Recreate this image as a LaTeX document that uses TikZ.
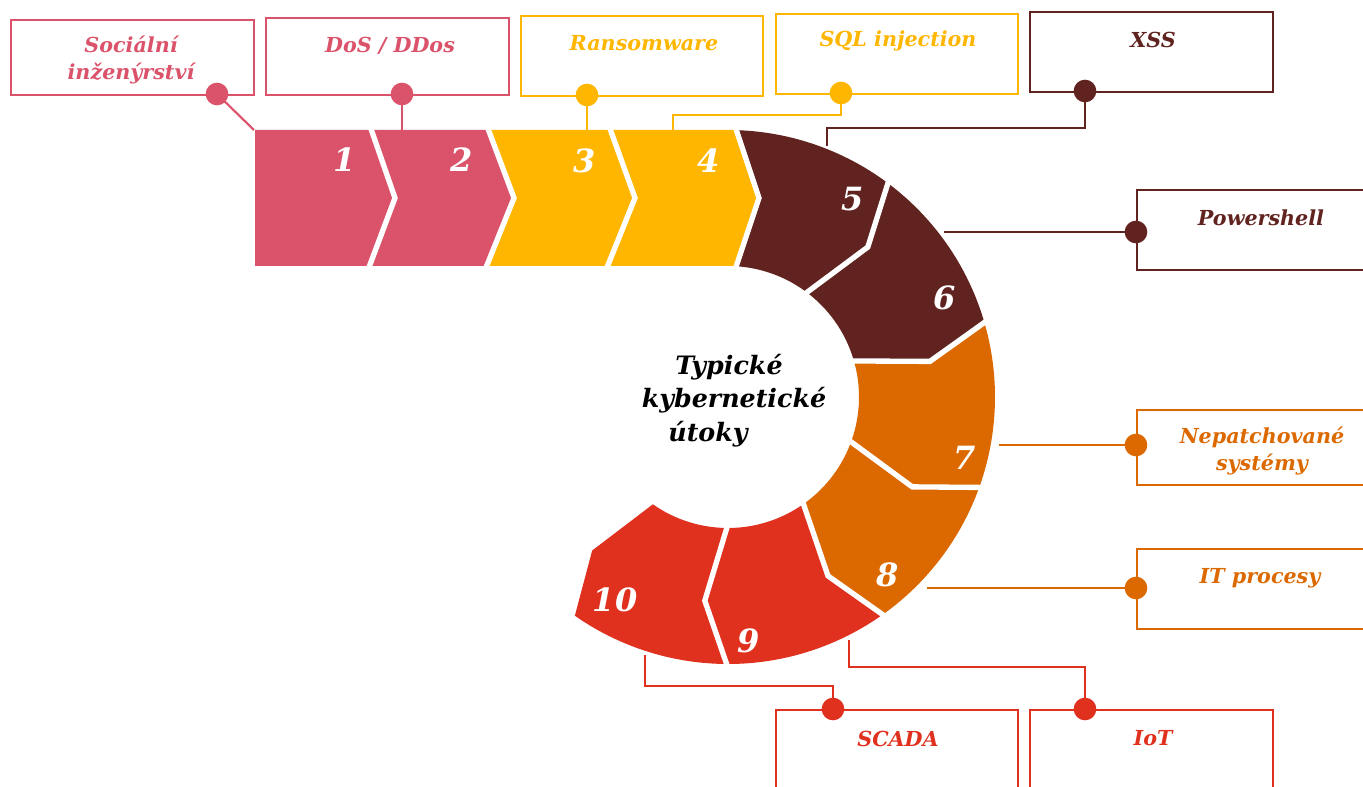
\documentclass[tikz,border=0pt]{standalone}
\usepackage{fontspec}
\setmainfont{DejaVu Serif}
\usetikzlibrary{calc}
\definecolor{rose}{HTML}{DB536A}
\definecolor{amber}{HTML}{FFB600}
\definecolor{burg}{HTML}{602320}
\definecolor{tang}{HTML}{DC6900}
\definecolor{scarlet}{HTML}{E0301E}
\newcommand\mysegment[3]{%
  \fill[#1] (#2:267) arc[start angle=#2, end angle=#3, radius=200.25pt]
    -- ({#3-6.5}:205) -- (#3:131) arc[start angle=#3, end angle=#2, radius=98.25pt]
    -- ({#2-6.5}:205) -- cycle;}
\newcommand\mygap[1]{%
  \draw[gapline] (#1:271) -- ({#1-6.5}:205) -- (#1:127);}
\begin{document}
\begin{tikzpicture}[x=0.75pt,y=0.75pt,
  lbl/.style={font=\bfseries\itshape\fontsize{15.5}{20}\selectfont, align=center, inner sep=0pt},
  ctr/.style={font=\bfseries\itshape\fontsize{19}{22}\selectfont, inner sep=0pt, text=black},
  num/.style={font=\bfseries\itshape\fontsize{24}{26}\selectfont, text=white, inner sep=0pt},
  lbox/.style={draw=#1, line width=1.6pt, inner sep=0pt, anchor=north west},
  dotn/.style={circle, fill=#1, inner sep=0pt, minimum size=17pt},
  conn/.style={draw=#1, line width=1.6pt},
  gapline/.style={white, line width=4pt, miter limit=10}]
\useasboundingbox (0,0) rectangle (1363,-787);
\clip (0,0) rectangle (1363,-787);

% straight chevrons
\fill[rose] (255,-130) -- (370,-130) -- (395,-198) -- (368,-266) -- (255,-266) -- cycle;
\fill[rose] (370,-130) -- (487,-130) -- (514,-198) -- (485,-266) -- (368,-266) -- (395,-198) -- cycle;
\fill[amber] (487,-130) -- (609,-130) -- (635,-198) -- (606,-266) -- (485,-266) -- (514,-198) -- cycle;
\fill[amber] (609,-130) -- (735,-130) -- (759,-198) -- (735,-266) -- (606,-266) -- (635,-198) -- cycle;

% ring
\begin{scope}[shift={(728,-397)}]
  \fill[burg] (88.5:267) arc[start angle=88.5, end angle=53.5, radius=200.25pt]
    -- (47:205) -- (53.5:131) arc[start angle=53.5, end angle=86.9, radius=98.25pt]
    -- (31,199) -- cycle;
  \mysegment{burg}{53.5}{16.5}
  \mysegment{tang}{16.5}{-19.5}
  \mysegment{tang}{-19.5}{-54.3}
  \mysegment{scarlet}{-54.3}{-90}
  \mysegment{scarlet}{-90}{-125}
  \mygap{53.5}
  \mygap{16.5}
  \mygap{-19.5}
  \mygap{-54.3}
  \mygap{-90}
\end{scope}
\draw[gapline] (370,-126) -- (395,-198) -- (368,-270);
\draw[gapline] (487,-126) -- (514,-198) -- (485,-270);
\draw[gapline] (609,-126) -- (635,-198) -- (606,-270);
\draw[gapline] (735,-126) -- (759,-198) -- (735,-270);

% numbers
\node[num] (n1) at (345,-160) {1};
\node[num] (n2) at (462,-160) {2};
\node[num] (n3) at (585,-161) {3};
\node[num] (n4) at (709,-161) {4};
\node[num] (n5) at (853,-199) {5};
\node[num] (n6) at (945,-298) {6};
\node[num] (n7) at (965,-458) {7};
\node[num] (n8) at (888,-575) {8};
\node[num] (n9) at (749,-641) {9};
\node[num] (n10) at (615,-600) {10};

% centre text
\node[ctr] (c1) at (729,-367) {Typické};
\node[ctr] (c2) at (734,-400) {kybernetické};
\node[ctr] (c3) at (708,-434) {útoky};

% boxes
\node[lbox=rose, minimum width=182.25pt, minimum height=56.25pt] (b1) at (10,-19) {};
\node[lbox=rose, minimum width=182.25pt, minimum height=57.75pt] (b2) at (265,-17) {};
\node[lbox=amber, minimum width=181.5pt, minimum height=60pt] (b3) at (520,-15) {};
\node[lbox=amber, minimum width=181.5pt, minimum height=60pt] (b4) at (775,-13) {};
\node[lbox=burg, minimum width=182.25pt, minimum height=60pt] (b5) at (1029,-11) {};
\node[lbox=burg, minimum width=200pt, minimum height=60pt] (b6) at (1136,-189) {};
\node[lbox=tang, minimum width=200pt, minimum height=56.25pt] (b7) at (1136,-409) {};
\node[lbox=tang, minimum width=200pt, minimum height=60pt] (b8) at (1136,-548) {};
\node[lbox=scarlet, minimum width=181.5pt, minimum height=80pt] (b9) at (775,-709) {};
\node[lbox=scarlet, minimum width=182.25pt, minimum height=80pt] (b10) at (1029,-709) {};

% label texts
\node[lbl, text=rose] (t1) at (131,-60) {Sociální\\inženýrství};
\node[lbl, text=rose] (t2) at (390,-46) {DoS / DDos};
\node[lbl, text=amber] (t3) at (644,-43) {Ransomware};
\node[lbl, text=amber] (t4) at (898,-41) {SQL injection};
\node[lbl, text=burg] (t5) at (1153,-40) {XSS};
\node[lbl, text=burg] (t6) at (1261,-218) {Powershell};
\node[lbl, text=tang] (t7) at (1262,-451) {Nepatchované\\systémy};
\node[lbl, text=tang] (t8) at (1260,-578) {IT procesy};
\node[lbl, text=scarlet] (t9) at (898,-739) {SCADA};
\node[lbl, text=scarlet] (t10) at (1153,-738) {IoT};

% connector end points
\coordinate (e1) at (254,-130);
\coordinate (e2) at (402,-130);
\coordinate (e3) at (587,-130);
\coordinate (e4) at (673,-130);
\coordinate (e5) at (827,-146);
\coordinate (e6) at (944,-232);
\coordinate (e7) at (999,-445);
\coordinate (e8) at (927,-588);
\coordinate (e9) at (645,-655);
\coordinate (e10) at (849,-640);

% dots
\node[dotn=rose] (d1) at (217,-94) {};
\node[dotn=rose] (d2) at (402,-94) {};
\node[dotn=amber] (d3) at (587,-95) {};
\node[dotn=amber] (d4) at (841,-93) {};
\node[dotn=burg] (d5) at (1085,-91) {};
\node[dotn=burg] (d6) at (1136,-232) {};
\node[dotn=tang] (d7) at (1136,-445) {};
\node[dotn=tang] (d8) at (1136,-588) {};
\node[dotn=scarlet] (d9) at (833,-709) {};
\node[dotn=scarlet] (d10) at (1085,-709) {};

% connectors
\draw[conn=rose] (d1.center) -- (e1);
\draw[conn=rose] (d2.center) -- (e2);
\draw[conn=amber] (d3.center) -- (e3);
\draw[conn=amber] (d4.center) -- (841,-115) -| (e4);
\draw[conn=burg] (d5.center) -- (1085,-128) -| (e5);
\draw[conn=burg] (d6.center) -- (e6);
\draw[conn=tang] (d7.center) -- (e7);
\draw[conn=tang] (d8.center) -- (e8);
\draw[conn=scarlet] (d9.center) -- (833,-686) -| (e9);
\draw[conn=scarlet] (d10.center) -- (1085,-667) -| (e10);
\end{tikzpicture}
\end{document}
